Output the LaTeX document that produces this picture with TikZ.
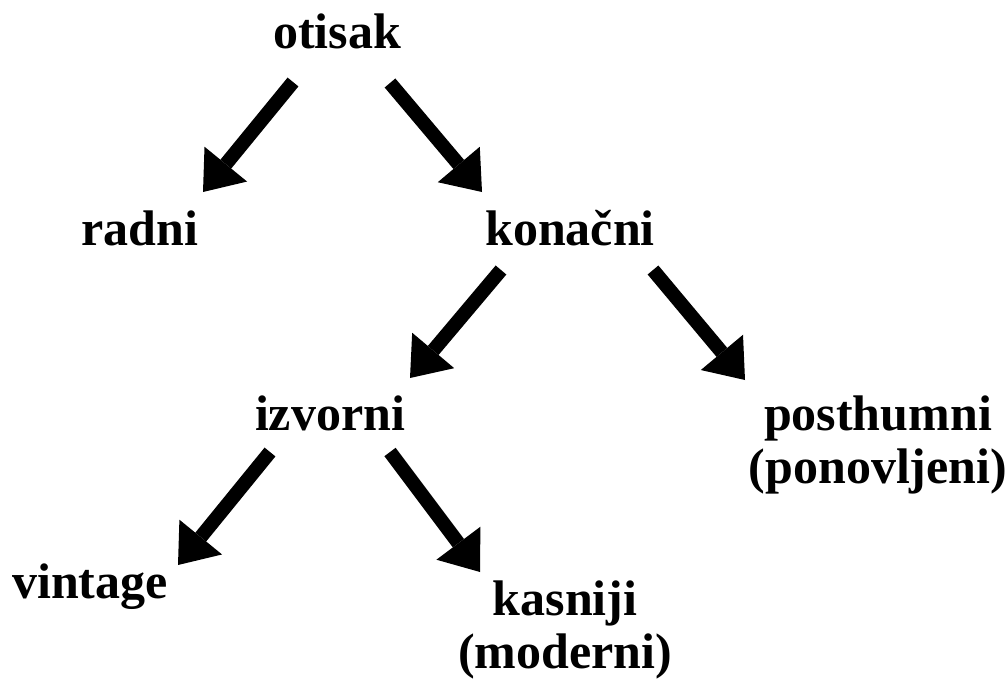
\documentclass[tikz,border=0pt]{standalone}
\usepackage{fontspec}
\setmainfont{Liberation Serif}
\usetikzlibrary{arrows.meta}
\begin{document}
\begin{tikzpicture}[x=1pt,y=-1pt,
  label/.style={inner sep=0pt, font=\fontsize{50}{53}\selectfont\bfseries, align=center},
  arr/.style={line width=14pt, -{Triangle[length=36pt,width=55pt,line width=0pt]}}]
\useasboundingbox (0,0) rectangle (1006,680);

% labels of the tree
\node[label, anchor=base] (otisak)  at (337,48)  {otisak};
\node[label, anchor=base] (radni)   at (140,245) {radni};
\node[label, anchor=base] (konacni) at (570,245) {konačni};
\node[label, anchor=base] (izvorni) at (330,430) {izvorni};
\node[label, anchor=north] (posthumni) at (878,396) {posthumni\\(ponovljeni)};
\node[label, anchor=base] (vintage) at (90,598)  {vintage};
\node[label, anchor=north] (kasniji) at (565,581) {kasniji\\(moderni)};

% arrow ends
\coordinate (a1s) at (293,82);  \coordinate (a1e) at (203,192);
\coordinate (a2s) at (390,83);  \coordinate (a2e) at (482,192);
\coordinate (a3s) at (501,270); \coordinate (a3e) at (410,378);
\coordinate (a4s) at (653,270); \coordinate (a4e) at (745,380);
\coordinate (a5s) at (270,452); \coordinate (a5e) at (178,565);
\coordinate (a6s) at (390,452); \coordinate (a6e) at (480,572);

\draw[arr] (a1s) -- (a1e);
\draw[arr] (a2s) -- (a2e);
\draw[arr] (a3s) -- (a3e);
\draw[arr] (a4s) -- (a4e);
\draw[arr] (a5s) -- (a5e);
\draw[arr] (a6s) -- (a6e);
\end{tikzpicture}
\end{document}
